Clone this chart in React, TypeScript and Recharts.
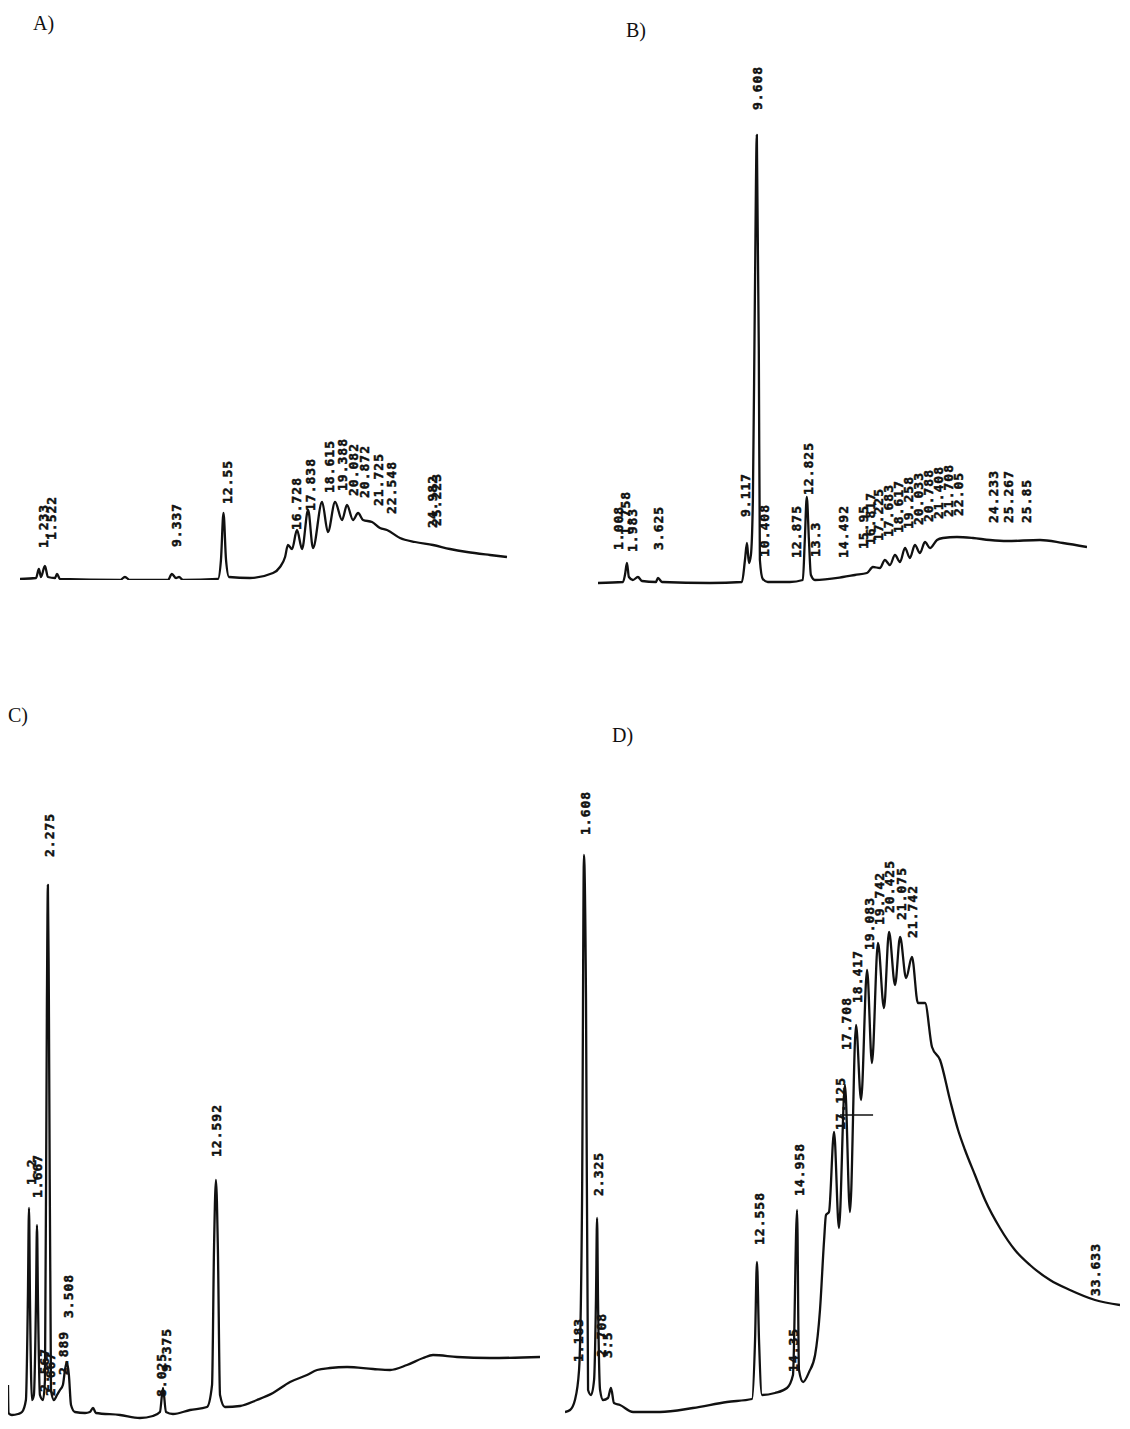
import React from 'react';
import { ComposedChart, Line, Scatter, XAxis, YAxis, ReferenceLine } from 'recharts';

// retention time (min) / detector response (arbitrary units)

// A)
const aTime = [-0.3, 0.71, 0.89, 1.02, 1.27, 1.46, 1.9, 2.03, 2.22, 6.0, 6.31, 6.63, 9.02, 9.27, 9.53, 9.72, 9.97,
  12.17, 12.36, 12.52, 12.68, 12.87, 14.19, 15.64, 16.08, 16.4, 16.58, 16.84, 17.15, 17.47, 17.85, 18.16, 18.73,
  19.1, 19.55, 19.99, 20.3, 20.68, 21.0, 21.31, 21.88, 22.38, 22.82, 23.64, 24.59, 25.72, 26.79, 27.86, 29.31, 30.38];
const aSignal = [1, 2, 11, 3, 14, 3, 2, 6, 1, 0, 3, 0, 0, 6, 2, 3, 0,
  1, 20, 67, 20, 3, 2, 7, 13, 23, 35, 31, 50, 31, 70, 32, 78,
  48, 78, 60, 75, 60, 67, 60, 58, 52, 50, 42, 38, 35, 31, 28, 25, 23];
const aPeakTime = [1.15, 1.65, 9.53, 12.74, 17.09, 17.97, 19.17, 19.99, 20.68, 21.37, 22.26, 23.07, 25.66, 25.91];
const aPeakLevel = [32, 40, 33, 76, 50, 69, 87, 89, 84, 82, 74, 66, 52, 54];
const aPeakText = ['1.233', '1.522', '9.337', '12.55', '16.728', '17.838', '18.615', '19.388', '20.082', '20.872',
  '21.725', '22.548', '24.982', '25.223'];

// B)
const bTime = [-0.83, 0.81, 0.94, 1.07, 1.2, 1.46, 1.79, 2.06, 2.97, 3.11, 3.37, 6.52, 8.62, 8.82, 8.95, 9.08, 9.21,
  9.34, 9.47, 9.6, 9.73, 9.8, 9.99, 10.32, 11.77, 12.62, 12.75, 12.88, 13.02, 13.15, 13.41, 15.25, 16.04, 16.83,
  17.22, 17.68, 18.01, 18.34, 18.67, 19.0, 19.33, 19.65, 19.98, 20.31, 20.64, 20.97, 21.43, 21.82, 22.74, 23.79,
  24.9, 26.02, 28.19, 29.7, 31.28];
const bSignal = [2, 3, 10, 22, 8, 5, 8, 4, 3, 7, 3, 2, 3, 25, 42, 22, 30,
  85, 285, 450, 235, 25, 6, 3, 3, 5, 45, 88, 45, 10, 5, 8, 10, 12,
  18, 17, 25, 20, 30, 23, 37, 27, 40, 32, 43, 37, 45, 47, 48, 47,
  45, 44, 45, 42, 38];
const bPeakTime = [0.48, 0.94, 1.4, 3.11, 8.82, 9.6, 10.09, 12.17, 12.96, 13.41, 15.25, 16.57, 17.03, 17.55, 18.2,
  18.86, 19.52, 20.18, 20.83, 21.49, 22.15, 22.8, 25.11, 26.1, 27.27];
const bPeakLevel = [35, 50, 33, 35, 68, 475, 28, 27, 90, 28, 27, 36, 40, 44, 48, 52, 56, 60, 63, 66, 68, 69, 62, 62, 62];
const bPeakText = ['1.008', '1.758', '1.983', '3.625', '9.117', '9.608', '10.408', '12.875', '12.825', '13.3', '14.492',
  '15.95', '16.817', '17.225', '17.683', '18.617', '19.258', '20.033', '20.788', '21.408', '21.708', '22.05',
  '24.233', '25.267', '25.85'];

// C)
const cTime = [-0.18, -0.15, 0.06, 0.43, 0.68, 0.92, 1.04, 1.11, 1.17, 1.29, 1.41, 1.54, 1.6, 1.66, 1.78, 1.97, 2.09,
  2.21, 2.27, 2.33, 2.46, 2.64, 2.83, 3.01, 3.19, 3.32, 3.44, 3.56, 3.69, 3.93, 4.55, 4.85, 5.04, 5.22, 6.7, 7.92,
  8.72, 9.15, 9.34, 9.52, 9.95, 11.0, 12.04, 12.35, 12.47, 12.59, 12.71, 12.84, 13.14, 14.07, 15.11, 16.09, 17.14,
  18.18, 18.8, 19.59, 20.64, 22.24, 23.28, 24.32, 25.31, 25.92, 27.4, 29.42, 32.49];
const cSignal = [37, 9, 7, 8, 10, 22, 122, 214, 122, 22, 27, 122, 197, 122, 27, 22, 42,
  422, 537, 422, 32, 22, 27, 32, 37, 52, 60, 47, 17, 10, 9, 10, 14, 9, 7, 4,
  6, 10, 34, 10, 8, 12, 15, 37, 172, 242, 172, 27, 15, 16, 22, 29, 40,
  47, 52, 54, 55, 53, 52, 57, 64, 67, 65, 64, 65];
const cPeakTime = [1.23, 1.6, 2.33, 2.03, 2.4, 3.19, 3.5, 9.21, 9.52, 12.59];
const cPeakLevel = [237, 224, 565, 30, 26, 47, 104, 25, 50, 265];
const cPeakText = ['1.2', '1.667', '2.275', '2.567', '2.667', '2.889', '3.508', '8.025', '9.375', '12.592'];

// D)
const dTime = [0.34, 0.66, 0.97, 1.23, 1.42, 1.54, 1.67, 1.8, 1.99, 2.18, 2.3, 2.37, 2.43, 2.56, 2.75, 3.06, 3.25,
  3.44, 3.82, 4.65, 6.35, 8.44, 10.59, 12.18, 12.37, 12.49, 12.62, 12.81, 13.63, 14.39, 14.77, 15.03, 15.15, 15.41,
  15.79, 16.17, 16.48, 16.74, 16.86, 17.05, 17.37, 17.68, 18.06, 18.38, 18.76, 19.08, 19.46, 19.77, 20.15, 20.53,
  20.85, 21.23, 21.55, 21.93, 22.3, 22.68, 23.13, 23.57, 24.08, 24.71, 25.22, 25.66, 26.29, 26.93, 27.87, 28.82,
  29.77, 31.04, 32.3, 33.89, 35.47];
const dSignal = [8, 10, 20, 50, 220, 565, 420, 30, 25, 40, 120, 202, 120, 30, 20, 22, 32,
  17, 15, 8, 8, 12, 18, 21, 80, 158, 80, 25, 27, 32, 45, 210, 50, 38,
  48, 65, 110, 180, 205, 208, 288, 192, 335, 208, 395, 320, 450, 357, 477, 412,
  488, 435, 483, 442, 463, 417, 417, 373, 360, 320, 290, 270, 245, 220, 192, 170,
  155, 140, 130, 120, 115];
const dPeakTime = [1.61, 1.16, 2.43, 2.62, 3.0, 12.62, 14.77, 15.15, 17.75, 18.13, 18.82, 19.58, 20.21, 20.85, 21.61,
  22.31, 33.89];
const dPeakLevel = [585, 58, 224, 63, 62, 175, 48, 224, 290, 370, 417, 470, 495, 507, 500, 482, 124];
const dPeakText = ['1.608', '1.183', '2.325', '2.708', '3.5', '12.558', '14.35', '14.958', '17.125', '17.708', '18.417',
  '19.083', '19.742', '20.425', '21.075', '21.742', '33.633'];
const dBaselineMark = { from: 17.75, to: 19.84, level: 305 };

const zip = (t: number[], s: number[]) => t.map((v, i) => ({ t: v, s: s[i] }));
const peaks = (t: number[], s: number[], text: string[]) => t.map((v, i) => ({ t: v, s: s[i], text: text[i] }));

function PeakLabel(props: any) {
  const { cx, cy, payload } = props;
  if (cx == null || cy == null) return null;
  return (
    <text
      transform={`translate(${cx + 5},${cy}) rotate(-90)`}
      fontFamily="DejaVu Sans Mono"
      fontWeight="bold"
      fontSize={13}
      letterSpacing={1}
      fill="#111"
      stroke="#111"
      strokeWidth={0.5}
    >
      {payload.text}
    </text>
  );
}

interface PanelProps {
  left: number;
  top: number;
  width: number;
  height: number;
  tMin: number;
  tMax: number;
  trace: { t: number; s: number }[];
  labels: { t: number; s: number; text: string }[];
  children?: React.ReactNode;
}

function Panel({ left, top, width, height, tMin, tMax, trace, labels, children }: PanelProps) {
  return (
    <div style={{ position: 'absolute', left, top }}>
      <ComposedChart width={width} height={height} margin={{ top: 0, right: 0, bottom: 0, left: 0 }}>
        <XAxis type="number" dataKey="t" domain={[tMin, tMax]} allowDataOverflow hide />
        <YAxis type="number" dataKey="s" domain={[0, height]} allowDataOverflow hide />
        <Line
          data={trace}
          dataKey="s"
          type="monotone"
          stroke="#111"
          strokeWidth={2.3}
          strokeLinejoin="round"
          dot={false}
          isAnimationActive={false}
        />
        <Scatter data={labels} dataKey="s" shape={<PeakLabel />} isAnimationActive={false} />
        {children}
      </ComposedChart>
    </div>
  );
}

const titleStyle: React.CSSProperties = {
  position: 'absolute',
  fontFamily: '"Liberation Serif", serif',
  fontSize: 20,
  lineHeight: '20px',
  color: '#111',
};

export default function App() {
  return (
    <div style={{ position: 'absolute', left: 0, top: 0, width: 1130, height: 1429, background: '#fff' }}>
      <span style={{ ...titleStyle, left: 33, top: 13 }}>A)</span>
      <span style={{ ...titleStyle, left: 626, top: 20 }}>B)</span>
      <span style={{ ...titleStyle, left: 8, top: 705 }}>C)</span>
      <span style={{ ...titleStyle, left: 612, top: 725 }}>D)</span>

      <Panel left={20} top={420} width={490} height={160} tMin={-0.3} tMax={30.57}
        trace={zip(aTime, aSignal)} labels={peaks(aPeakTime, aPeakLevel, aPeakText)} />

      <Panel left={598} top={50} width={489} height={535} tMin={-0.83} tMax={31.28}
        trace={zip(bTime, bSignal)} labels={peaks(bPeakTime, bPeakLevel, bPeakText)} />

      <Panel left={8} top={800} width={532} height={622} tMin={-0.18} tMax={32.49}
        trace={zip(cTime, cSignal)} labels={peaks(cPeakTime, cPeakLevel, cPeakText)} />

      <Panel left={565} top={770} width={555} height={650} tMin={0.34} tMax={35.47}
        trace={zip(dTime, dSignal)} labels={peaks(dPeakTime, dPeakLevel, dPeakText)}>
        <ReferenceLine
          segment={[{ x: dBaselineMark.from, y: dBaselineMark.level }, { x: dBaselineMark.to, y: dBaselineMark.level }]}
          stroke="#111"
          strokeWidth={1.5}
        />
      </Panel>
    </div>
  );
}
